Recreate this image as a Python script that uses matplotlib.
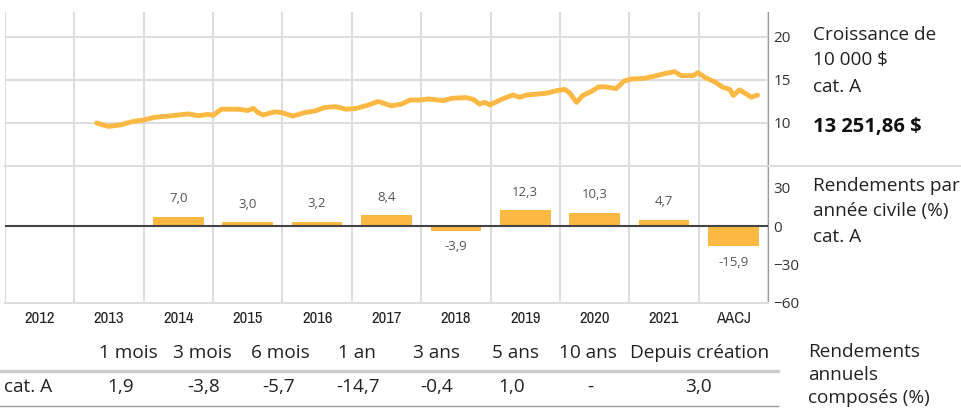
import matplotlib
matplotlib.use("Agg")
import matplotlib.pyplot as plt
from matplotlib.lines import Line2D
from matplotlib import font_manager

plt.rcParams['font.family'] = ['Open Sans', 'DejaVu Sans']

# croissance de 10 000 $ (en milliers)
t = [2013.32, 2013.49, 2013.66, 2013.83, 2014.0, 2014.16, 2014.35, 2014.64, 2014.79, 2014.93,
     2015.0, 2015.12, 2015.36, 2015.5, 2015.58, 2015.65, 2015.72, 2015.89, 2015.99, 2016.15,
     2016.32, 2016.47, 2016.61, 2016.76, 2016.92, 2017.07, 2017.24, 2017.38, 2017.57, 2017.72,
     2017.84, 2018.0, 2018.1, 2018.32, 2018.44, 2018.65, 2018.75, 2018.84, 2018.92, 2018.99,
     2019.16, 2019.32, 2019.42, 2019.52, 2019.8, 2019.95, 2020.07, 2020.14, 2020.24, 2020.33,
     2020.45, 2020.56, 2020.65, 2020.81, 2020.93, 2021.03, 2021.22, 2021.34, 2021.49, 2021.65,
     2021.75, 2021.92, 2021.99, 2022.11, 2022.23, 2022.35, 2022.45, 2022.5, 2022.59, 2022.66,
     2022.76, 2022.85]
valeur = [10.0, 9.6, 9.77, 10.15, 10.35, 10.66, 10.8, 11.05, 10.85, 11.0,
          10.9, 11.6, 11.6, 11.45, 11.7, 11.2, 10.93, 11.3, 11.2, 10.8,
          11.2, 11.4, 11.8, 11.9, 11.6, 11.7, 12.1, 12.5, 12.0, 12.2,
          12.67, 12.67, 12.8, 12.6, 12.87, 12.95, 12.75, 12.2, 12.4, 12.1,
          12.75, 13.25, 13.0, 13.25, 13.45, 13.75, 13.9, 13.5, 12.4, 13.2,
          13.65, 14.2, 14.2, 14.0, 14.9, 15.1, 15.2, 15.4, 15.7, 15.97,
          15.5, 15.5, 15.85, 15.2, 14.8, 14.15, 13.9, 13.2, 13.85, 13.5,
          13.0, 13.25]

annees = ['2012', '2013', '2014', '2015', '2016', '2017', '2018', '2019', '2020', '2021', 'AACJ']
rendements = [None, None, 7.0, 3.0, 3.2, 8.4, -3.9, 12.3, 10.3, 4.7, -15.9]

periodes = ['1 mois', '3 mois', '6 mois', '1 an', '3 ans', '5 ans', '10 ans', 'Depuis création']
composes = ['1,9', '-3,8', '-5,7', '-14,7', '-0,4', '1,0', '-', '3,0']

W, H = 962, 409
orange = '#FBB843'
grille = '#dddddd'

# police étroite pour les années, si une est installée
noms = sorted({f.name for f in font_manager.fontManager.ttflist})
etroite = [n for n in noms if 'Narrow' in n] + [n for n in noms if 'Condensed' in n]
if etroite:
    police_annees = [etroite[0], 'DejaVu Sans']
    taille_annees = 12
else:
    police_annees = ['Liberation Sans', 'DejaVu Sans']
    taille_annees = 9.5

fig = plt.figure(figsize=(W / 100, H / 100), dpi=100)


def fx(x):
    return x / W


def fy(y):
    return 1 - y / H


# panneau du haut : croissance
ax1 = fig.add_axes([fx(5), fy(166), fx(768) - fx(5), fy(12) - fy(166)])
ax1.plot(t, valeur, color=orange, lw=3.5, solid_capstyle='round', solid_joinstyle='round', zorder=3)
ax1.set_xlim(2012, 2023)
ax1.set_ylim(5, 22.9)
ax1.set_xticks(range(2012, 2024))
ax1.set_yticks([10, 15, 20])
ax1.grid(True, color=grille, lw=1.5)
ax1.tick_params(length=0, labelbottom=False, labelleft=False, labelright=True,
                labelsize=11, labelcolor='#333333', pad=4)
ax1.yaxis.set_ticks_position('right')
for s in ['top', 'left', 'bottom']:
    ax1.spines[s].set_visible(False)
ax1.spines['right'].set_color('#999999')

# panneau du bas : rendements par année civile
ax2 = fig.add_axes([fx(5), fy(303), fx(768) - fx(5), fy(167) - fy(303)])
xs = [2012.5 + i for i in range(len(annees))]
for x, r in zip(xs, rendements):
    if r is None:
        continue
    ax2.bar(x, r, width=0.73, color=orange, zorder=2)
    txt = f'{r:.1f}'.replace('.', ',')
    off = 13 if r > 0 else -11.5
    ax2.annotate(txt, (x, r), xytext=(0, off), textcoords='offset points',
                 ha='center', va='center', fontsize=9.5, color='#555555')
ax2.axhline(0, color='#444444', lw=1.5, zorder=3)
ax2.set_xlim(2012, 2023)
ax2.set_ylim(-60, 46)
ax2.set_xticks(range(2012, 2024))
ax2.set_xticks(xs, minor=True)
ax2.set_xticklabels([])
ax2.set_xticklabels(annees, minor=True, family=police_annees)
ax2.set_yticks([-60, -30, 0, 30])
ax2.grid(True, axis='x', which='major', color=grille, lw=1.5)
ax2.tick_params(which='both', length=0)
ax2.tick_params(axis='x', which='minor', labelsize=taille_annees, labelcolor='#222222', pad=6)
ax2.tick_params(axis='y', labelleft=False, labelright=True, labelsize=11,
                labelcolor='#333333', pad=4)
ax2.yaxis.set_ticks_position('right')
for s in ['top', 'left']:
    ax2.spines[s].set_visible(False)
ax2.spines['bottom'].set_color(grille)
ax2.spines['bottom'].set_linewidth(1.5)
ax2.spines['right'].set_color('#999999')

# séparation entre les panneaux
fig.add_artist(Line2D([fx(5), 1], [fy(166), fy(166)], color=grille, lw=1.5))

# étiquettes à droite
lab = dict(fontsize=13.7, color='#222222', va='center', ha='left')
fig.text(fx(813), fy(35), 'Croissance de', **lab)
fig.text(fx(813), fy(60), '10 000 $', **lab)
fig.text(fx(813), fy(87), 'cat. A', **lab)
fig.text(fx(813), fy(127), '13 251,86 $', fontsize=14.5, fontweight='bold',
         color='#111111', va='center', ha='left')
fig.text(fx(813), fy(186), 'Rendements par', **lab)
fig.text(fx(813), fy(211), 'année civile (%)', **lab)
fig.text(fx(813), fy(237), 'cat. A', **lab)

# tableau des rendements composés
tab = dict(fontsize=13.7, color='#222222', va='center', ha='center')
x_tete = [128, 202, 280, 357, 437, 516, 588, 700]
x_val = [121, 204, 279, 358, 437, 512, 590, 698]
for x, p in zip(x_tete, periodes):
    fig.text(fx(x), fy(353), p, **tab)
for x, v in zip(x_val, composes):
    fig.text(fx(x), fy(387), v, **tab)
fig.text(fx(4), fy(387), 'cat. A', fontsize=13.7, color='#222222', va='center', ha='left')
fig.add_artist(Line2D([0, fx(778)], [fy(371), fy(371)], color='#cccccc', lw=2.5))
fig.add_artist(Line2D([0, fx(778)], [fy(406), fy(406)], color='#999999', lw=1))
fig.text(fx(808), fy(352), 'Rendements', **lab)
fig.text(fx(808), fy(375), 'annuels', **lab)
fig.text(fx(808), fy(398), 'composés (%)', **lab)

fig.savefig('out.png', dpi=100)
